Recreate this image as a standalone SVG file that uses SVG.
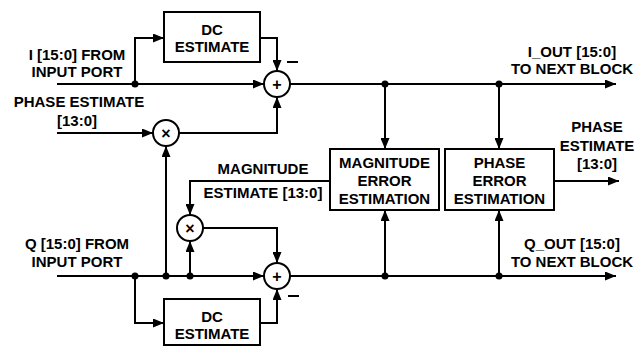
<svg xmlns="http://www.w3.org/2000/svg" width="638" height="348" viewBox="0 0 638 348">
<style>
.t{font-family:"Liberation Sans",Arial,sans-serif;font-weight:bold;font-size:15px;fill:#000;text-anchor:middle}
.s{font-family:"Liberation Sans",Arial,sans-serif;font-weight:bold;font-size:16px;fill:#000;text-anchor:middle}
.b{fill:#fff;stroke:#000;stroke-width:2}
.w{fill:none;stroke:#000;stroke-width:2}
.a{fill:none;stroke:#000;stroke-width:2;marker-end:url(#ah)}
.d{fill:#000}
</style>
<defs>
<marker id="ah" markerUnits="userSpaceOnUse" markerWidth="12" markerHeight="9" refX="11" refY="4.5" orient="auto">
<path d="M0,0 L11,4.5 L0,9 z" fill="#000"/>
</marker>
</defs>
<rect width="638" height="348" fill="#fff"/>
<g id="connectors">
<path class="a" d="M57,84 H264"/>
<path class="a" d="M290,84 H616"/>
<path class="a" d="M135,84 V38 H164"/>
<path class="a" d="M260,38 H277 V71"/>
<path class="a" d="M57,133 H153"/>
<path class="a" d="M179,133 H277 V97"/>
<path class="a" d="M166,276 V146"/>
<path class="a" d="M385,84 V149"/>
<path class="a" d="M499,84 V149"/>
<path class="a" d="M57,276 H264"/>
<path class="a" d="M290,276 H616"/>
<path class="a" d="M190,276 V241"/>
<path class="a" d="M330,181 H190 V215"/>
<path class="a" d="M203,228 H277 V263"/>
<path class="a" d="M135,276 V323 H164"/>
<path class="a" d="M260,323 H277 V289"/>
<path class="a" d="M385,276 V210"/>
<path class="a" d="M499,276 V210"/>
<path class="a" d="M554,181 H619"/>
<circle class="d" cx="135" cy="84" r="3.5"/>
<circle class="d" cx="385" cy="84" r="3.5"/>
<circle class="d" cx="499" cy="84" r="3.5"/>
<circle class="d" cx="135" cy="276" r="3.5"/>
<circle class="d" cx="166" cy="276" r="3.5"/>
<circle class="d" cx="190" cy="276" r="3.5"/>
<circle class="d" cx="385" cy="276" r="3.5"/>
<circle class="d" cx="499" cy="276" r="3.5"/>
<path class="w" d="M287,62 H298"/>
<path class="w" d="M288,296 H299"/>
</g>
<g id="dc_top">
<rect class="b" x="164" y="12" width="96" height="50"/>
<text class="t" x="212" y="35">DC</text>
<text class="t" x="212" y="52">ESTIMATE</text>
</g>
<g id="dc_bottom">
<rect class="b" x="164" y="299" width="96" height="46"/>
<text class="t" x="212" y="322">DC</text>
<text class="t" x="212" y="339">ESTIMATE</text>
</g>
<g id="adder_i">
<circle class="b" cx="277" cy="84" r="13"/>
<text class="s" x="277" y="90">+</text>
</g>
<g id="adder_q">
<circle class="b" cx="277" cy="276" r="13"/>
<text class="s" x="277" y="282">+</text>
</g>
<g id="mult_phase">
<circle class="b" cx="166" cy="133" r="13"/>
<text class="s" x="166" y="138.5">×</text>
</g>
<g id="mult_mag">
<circle class="b" cx="190" cy="228" r="13"/>
<text class="s" x="190" y="233.5">×</text>
</g>
<g id="mag_err">
<rect class="b" x="330" y="149" width="109" height="61"/>
<text class="t" x="384.5" y="168">MAGNITUDE</text>
<text class="t" x="384.5" y="186">ERROR</text>
<text class="t" x="384.5" y="204">ESTIMATION</text>
</g>
<g id="phase_err">
<rect class="b" x="445" y="149" width="109" height="61"/>
<text class="t" x="499.5" y="168">PHASE</text>
<text class="t" x="499.5" y="186">ERROR</text>
<text class="t" x="499.5" y="204">ESTIMATION</text>
</g>
<g id="labels">
<text class="t" x="77" y="60">I [15:0] FROM</text>
<text class="t" x="77" y="77">INPUT PORT</text>
<text class="t" x="79" y="107">PHASE ESTIMATE</text>
<text class="t" x="77" y="126">[13:0]</text>
<text class="t" x="77" y="249">Q [15:0] FROM</text>
<text class="t" x="77" y="267">INPUT PORT</text>
<text class="t" x="263" y="174">MAGNITUDE</text>
<text class="t" x="263" y="198">ESTIMATE [13:0]</text>
<text class="t" x="572" y="57">I_OUT [15:0]</text>
<text class="t" x="572" y="74">TO NEXT BLOCK</text>
<text class="t" x="597" y="132">PHASE</text>
<text class="t" x="597" y="151">ESTIMATE</text>
<text class="t" x="597" y="169">[13:0]</text>
<text class="t" x="572" y="249">Q_OUT [15:0]</text>
<text class="t" x="572" y="267">TO NEXT BLOCK</text>
</g>
</svg>
